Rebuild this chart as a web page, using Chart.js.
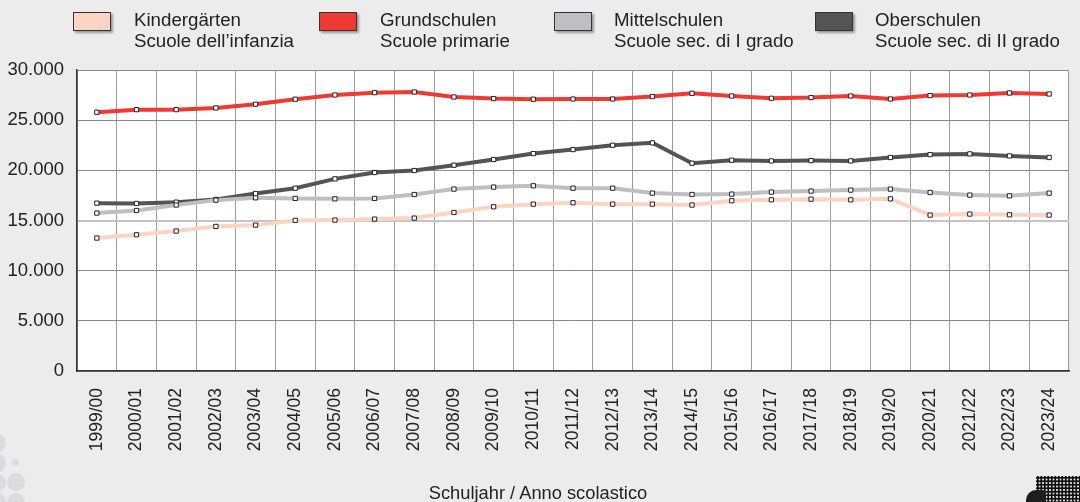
<!DOCTYPE html>
<html>
<head>
<meta charset="utf-8">
<script src="https://cdn.jsdelivr.net/npm/chart.js@4.4.1/dist/chart.umd.min.js"></script>
<style>
  html, body { margin: 0; padding: 0; background: #ececec; }
  #wrap { position: relative; width: 1080px; height: 502px; overflow: hidden; font-family: "Liberation Sans", Arial, sans-serif; }
  #chart { position: absolute; left: 0; top: 0; }
  .key { position: absolute; top: 12px; width: 38px; height: 19px; border: 1px solid #333; box-shadow: 2px 2px 2px rgba(0,0,0,0.35); box-sizing: border-box; }
  .lbl { position: absolute; top: 9px; font-size: 18.7px; line-height: 21px; color: #222; white-space: nowrap; }
  #xtitle { position: absolute; left: 0; width: 1076px; top: 482px; text-align: center; font-size: 18.3px; color: #222; }
  .dot { position: absolute; border-radius: 50%; background: #dcdcdf; }
  #dots { position: absolute; left: 1036px; top: 476px; width: 44px; height: 26px;
    background-image: radial-gradient(circle, #111 1.4px, transparent 1.7px); background-size: 3.5px 3.5px; }
  #blob { position: absolute; left: 1026px; top: 490px; width: 20px; height: 16px; background: #1e1e1e; border-radius: 10px 4px 0 0; }
</style>
</head>
<body>
<div id="wrap">
  <canvas id="chart" width="1080" height="502"></canvas>
  <div id="legend"></div>
  <div id="xtitle">Schuljahr / Anno scolastico</div>
  <div class="dot" style="left:-14px;top:433px;width:20px;height:20px"></div>
  <div class="dot" style="left:-14px;top:453px;width:20px;height:20px"></div>
  <div class="dot" style="left:-12px;top:474px;width:18px;height:18px"></div>
  <div class="dot" style="left:-12px;top:493px;width:18px;height:18px"></div>
  <div class="dot" style="left:7px;top:473px;width:18px;height:18px"></div>
  <div class="dot" style="left:7px;top:493px;width:18px;height:18px"></div>
  <div class="dot" style="left:12px;top:459px;width:7px;height:7px"></div>
  <div id="dots"></div>
  <div id="blob"></div>
</div>
<script>
// school years
const years = ["1999/00","2000/01","2001/02","2002/03","2003/04","2004/05","2005/06","2006/07","2007/08","2008/09",
  "2009/10","2010/11","2011/12","2012/13","2013/14","2014/15","2015/16","2016/17","2017/18","2018/19",
  "2019/20","2020/21","2021/22","2022/23","2023/24"];

const kindergarten = [13250,13580,13950,14410,14540,15010,15040,15140,15240,15800,
  16370,16630,16770,16630,16630,16540,16970,17060,17130,17060,
  17160,15540,15640,15570,15540];
const grundschulen = [25790,26050,26050,26220,26590,27090,27510,27740,27810,27310,
  27150,27090,27110,27110,27350,27680,27410,27180,27250,27410,
  27110,27450,27510,27710,27610];
const mittelschulen = [15740,16000,16540,17030,17260,17200,17160,17200,17590,18130,
  18330,18460,18220,18220,17730,17590,17630,17830,17930,18030,
  18130,17790,17530,17460,17730];
const oberschulen = [16730,16700,16830,17100,17690,18220,19150,19780,19980,20510,
  21080,21670,22070,22500,22740,20710,21010,20940,20970,20940,
  21280,21570,21640,21440,21280];

const seriesNames = [
  ["Kindergärten", "Scuole dell’infanzia"],
  ["Grundschulen", "Scuole primarie"],
  ["Mittelschulen", "Scuole sec. di I grado"],
  ["Oberschulen", "Scuole sec. di II grado"]
];
const seriesColors = ["#fcd4c4", "#ee3a32", "#bfbfc3", "#545454"];

const yTicks = [0, 5000, 10000, 15000, 20000, 25000, 30000];

// html legend
const legendPos = [[73, 134], [319, 380], [554, 614], [815, 875]];
const legend = document.getElementById("legend");
seriesNames.forEach((name, i) => {
  let box = document.createElement("div");
  box.className = "key";
  box.style.left = legendPos[i][0] + "px";
  box.style.background = seriesColors[i];
  legend.appendChild(box);
  let txt = document.createElement("div");
  txt.className = "lbl";
  txt.style.left = legendPos[i][1] + "px";
  txt.innerHTML = name[0] + "<br>" + name[1];
  legend.appendChild(txt);
});

//white plot background
const plotBg = {
  id: "plotBg",
  beforeDraw(chart) {
    const { ctx, chartArea: a } = chart;
    ctx.save();
    ctx.fillStyle = "#ffffff";
    ctx.fillRect(a.left, a.top, a.right - a.left, a.bottom - a.top);
    ctx.restore();
  }
};

function makeSet(data, i) {
  return {
    label: seriesNames[i][0],
    data: data,
    borderColor: seriesColors[i],
    borderWidth: 4,
    tension: 0,
    pointStyle: "rect",
    pointRadius: 3,
    pointBorderWidth: 1,
    pointBorderColor: "#222",
    pointBackgroundColor: "#fff"
  };
}

new Chart(document.getElementById("chart"), {
  type: "line",
  plugins: [plotBg],
  data: {
    labels: years,
    datasets: [
      makeSet(kindergarten, 0),
      makeSet(grundschulen, 1),
      makeSet(mittelschulen, 2),
      makeSet(oberschulen, 3)
    ]
  },
  options: {
    responsive: false,
    animation: false,
    layout: { padding: { top: 70, right: 11, left: 0, bottom: 0 } },
    plugins: { legend: { display: false }, tooltip: { enabled: false } },
    scales: {
      x: {
        offset: true,
        grid: { offset: true, color: "#9c9c9c", drawTicks: false },
        border: { color: "#333", width: 1.5 },
        ticks: {
          minRotation: 90, maxRotation: 90, padding: 17,
          color: "#222",
          font: { family: "'Liberation Sans', Arial, sans-serif", size: 17.5 }
        },
        afterFit(scale) {
          scale.height = 131;
          scale.paddingLeft = 0;
          scale.paddingRight = 0;
        }
      },
      y: {
        min: 0, max: 30000,
        afterBuildTicks(scale) { scale.ticks = yTicks.map(v => ({ value: v })); },
        grid: {
          color: (c) => c.tick && c.tick.value === 15000 ? "#c4c4c4" : "#8a8a8a",
          lineWidth: (c) => c.tick && c.tick.value === 15000 ? 2 : 1,
          drawTicks: false
        },
        border: { color: "#333", width: 1.5 },
        ticks: {
          padding: 13,
          color: "#222",
          font: { family: "'Liberation Sans', Arial, sans-serif", size: 18.5 },
          callback: (v) => v.toString().replace(/\B(?=(\d{3})+(?!\d))/g, ".")
        },
        afterFit(scale) { scale.width = 77; }
      }
    }
  }
});
</script>
</body>
</html>
